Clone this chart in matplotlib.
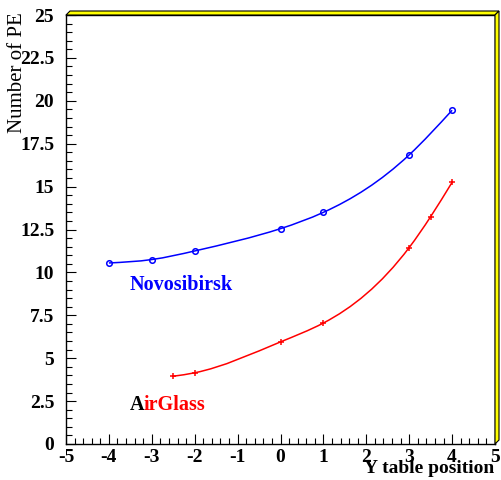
import numpy as np
import matplotlib
matplotlib.use("Agg")
import matplotlib.pyplot as plt
from matplotlib.path import Path
from matplotlib.patches import PathPatch, Polygon
from matplotlib.ticker import MultipleLocator

# Novosibirsk aerogel
novo_x = [-4, -3, -2, 0, 1, 3, 4]
novo_y = [10.55, 10.75, 11.25, 12.55, 13.5, 16.85, 19.45]
# AirGlass aerogel
air_x = [-2.5, -2, 0, 1, 3, 3.5, 4]
air_y = [3.95, 4.15, 5.95, 7.05, 11.45, 13.25, 15.25]

W, H = 501, 480
plt.rcParams['font.family'] = ['Liberation Serif', 'DejaVu Serif']


def smooth_path(xs, ys):
    # natural cubic spline through the points, drawn as bezier segments
    x = np.asarray(xs, float)
    y = np.asarray(ys, float)
    n = len(x)
    h = np.diff(x)
    A = np.zeros((n, n))
    r = np.zeros(n)
    A[0, 0] = A[-1, -1] = 1
    for i in range(1, n - 1):
        A[i, i - 1] = h[i - 1]
        A[i, i] = 2 * (h[i - 1] + h[i])
        A[i, i + 1] = h[i]
        r[i] = 6 * ((y[i + 1] - y[i]) / h[i] - (y[i] - y[i - 1]) / h[i - 1])
    M = np.linalg.solve(A, r)
    # slopes at the knots
    d = np.zeros(n)
    for i in range(n - 1):
        d[i] = (y[i + 1] - y[i]) / h[i] - h[i] * (2 * M[i] + M[i + 1]) / 6
    d[-1] = (y[-1] - y[-2]) / h[-1] + h[-1] * (M[-2] + 2 * M[-1]) / 6
    verts = [(x[0], y[0])]
    codes = [Path.MOVETO]
    for i in range(n - 1):
        verts += [(x[i] + h[i] / 3, y[i] + d[i] * h[i] / 3),
                  (x[i + 1] - h[i] / 3, y[i + 1] - d[i + 1] * h[i] / 3),
                  (x[i + 1], y[i + 1])]
        codes += [Path.CURVE4] * 3
    return Path(verts, codes)


fig = plt.figure(figsize=(W / 100, H / 100), dpi=100)
fig.patch.set_facecolor('white')

# frame in pixel coords
L, R, T, B = 66, 495, 15, 444
ax = fig.add_axes([L / W, 1 - B / H, (R - L) / W, (B - T) / H])


def fp(x, y):
    return (x / W, 1 - y / H)


# yellow raised border (top and right)
top = Polygon([fp(L, T), fp(R, T), fp(R + 4, T - 4), fp(L + 4, T - 4)],
              closed=True, facecolor='#ffff00', edgecolor='black', lw=0.8,
              transform=fig.transFigure)
right = Polygon([fp(R, T), fp(R + 4, T - 4), fp(R + 4, B - 4), fp(R, B)],
                closed=True, facecolor='#ffff00', edgecolor='black', lw=0.8,
                transform=fig.transFigure)
fig.patches.extend([top, right])

ax.add_patch(PathPatch(smooth_path(novo_x, novo_y), fill=False, color='blue', lw=1.1))
ax.plot(novo_x, novo_y, 'o', mfc='none', mec='blue', ms=4, mew=1.1)
ax.add_patch(PathPatch(smooth_path(air_x, air_y), fill=False, color='red', lw=1.1))
ax.plot(air_x, air_y, '+', color='red', ms=5, mew=1.1)

ax.set_xticks(np.arange(-5, 6, 1))
ax.set_xticklabels([f'{v:g}' for v in np.arange(-5, 6, 1)], fontweight='bold')
ax.set_yticks(np.arange(0, 26, 2.5))
ax.set_yticklabels([f'{v:g}' for v in np.arange(0, 26, 2.5)], fontweight='bold')
ax.xaxis.set_minor_locator(MultipleLocator(0.2))
ax.yaxis.set_minor_locator(MultipleLocator(0.5))
ax.set_xlim(-5, 5)
ax.set_ylim(0, 25)
ax.tick_params(which='both', direction='in', top=False, right=False, width=0.8)
ax.tick_params(which='major', length=7, labelsize=14)
ax.tick_params(axis='y', which='major', pad=8.5)
ax.tick_params(axis='x', which='major', pad=3.5)
ax.tick_params(which='minor', length=4)
for s in ax.spines.values():
    s.set_linewidth(1.0)

fig.text(494 / W, 1 - 473 / H, 'Y table position', ha='right', va='baseline',
         fontsize=14, fontweight='bold')
fig.text(18 / W, 1 - 12 / H, 'Number of PE', rotation=90, ha='center', va='top',
         fontsize=15)

ax.text(-3.52, 9.25, 'Novosibirsk', color='blue', fontsize=14.5, fontweight='bold',
        va='center', ha='left')
t = ax.text(-3.52, 2.3, 'A', color='black', fontsize=14.5, fontweight='bold',
            va='center', ha='left')
fig.canvas.draw()
bb = t.get_window_extent()
x1 = ax.transData.inverted().transform((bb.x1, bb.y0))[0]
ax.text(x1, 2.3, 'irGlass', color='red', fontsize=14.5, fontweight='bold',
        va='center', ha='left')

fig.savefig('out.png', dpi=100)
